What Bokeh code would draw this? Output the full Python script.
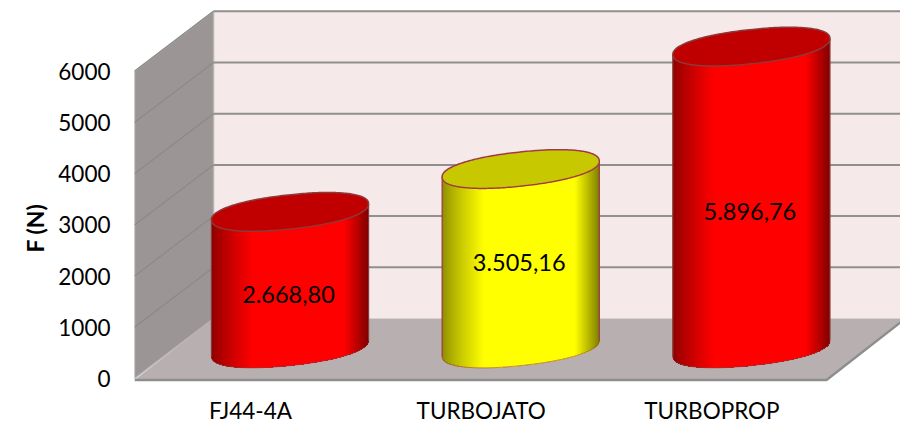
import math
from bokeh.core.properties import value
from bokeh.embed import file_html
from bokeh.models import FixedTicker, Range1d, Title
from bokeh.plotting import figure
from bokeh.resources import INLINE

categories = ["FJ44-4A", "TURBOJATO", "TURBOPROP"]
values = [2668.80, 3505.16, 5896.76]
value_labels = ["2.668,80", "3.505,16", "5.896,76"]
y_ticks = [0, 1000, 2000, 3000, 4000, 5000, 6000]
y_title = "F (N)"
body_colors = [(255, 0, 0), (255, 255, 0), (255, 0, 0)]
cap_colors = ["#C00000", "#C8C800", "#C00000"]
edge_colors = ["#8C3A3A", "#A03A48", "#8C3A3A"]

W, H = 900, 432
FRAME_L, FRAME_T, FRAME_R, FRAME_B = 134, 0, 900, 394
PX_X = 230.7
PX_Y = 0.0512
ZERO_X, ZERO_Y = 250.0, 378.0
BAR_X = 39.5
DEPTH_X, DEPTH_Y = 79.0, 60.0
dx = DEPTH_X / PX_X
dy = DEPTH_Y / PX_Y
px = 1 / PX_X
py = 1 / PX_Y
LEFT_EDGE = 134.0

p = figure(
    width=W, height=H, output_backend="svg", toolbar_location=None,
    x_range=Range1d((FRAME_L - ZERO_X) / PX_X, (FRAME_R - ZERO_X) / PX_X),
    y_range=Range1d((ZERO_Y - FRAME_B) / PX_Y, (ZERO_Y - FRAME_T) / PX_Y),
    min_border_left=FRAME_L, min_border_right=W - FRAME_R,
    min_border_top=FRAME_T, min_border_bottom=H - FRAME_B,
)
p.outline_line_color = None
p.xgrid.visible = False
p.ygrid.visible = False

FONT = "Lato"
ya = p.yaxis[0]
ya.ticker = FixedTicker(ticks=y_ticks)
ya.axis_line_color = None
ya.major_tick_line_color = None
ya.minor_tick_line_color = None
ya.major_tick_out = 0
ya.major_tick_in = 0
ya.minor_tick_out = 0
ya.major_label_text_font = FONT
ya.major_label_text_font_size = "22.5px"
ya.major_label_text_color = "#000000"
ya.major_label_standoff = 24

xa = p.xaxis[0]
xa.ticker = FixedTicker(ticks=list(range(len(categories))))
xa.major_label_overrides = {i: c for i, c in enumerate(categories)}
xa.axis_line_color = None
xa.major_tick_line_color = None
xa.minor_tick_line_color = None
xa.major_tick_out = 0
xa.major_tick_in = 0
xa.minor_tick_out = 0
xa.major_label_text_font = FONT
xa.major_label_text_font_size = "22.5px"
xa.major_label_text_color = "#000000"
xa.major_label_standoff = 2

# a title on the left side can be slid along the axis, unlike an axis label
p.add_layout(Title(text=y_title, align="left", offset=FRAME_B - 252, standoff=13,
                   text_font=FONT, text_font_size="23px", text_font_style="bold",
                   text_color="#000000"), "left")

left = (LEFT_EDGE - ZERO_X) / PX_X
right_front = left + 692 / PX_X
right_back = right_front + dx
top = y_ticks[-1]

# back wall
p.patch([left + dx, right_back, right_back, left + dx], [dy, dy, top + dy, top + dy],
        fill_color="#F5E9E9", line_color=None)
# side wall
p.patch([left, left + dx, left + dx, left], [0, dy, top + dy, top],
        fill_color="#9B9695", line_color="#B5B2B1", line_width=1.5)
# floor
p.patch([left, right_front, right_back, left + dx], [-1.5 * py, -1.5 * py, dy, dy],
        fill_color="#B8B0B0", line_color=None)
p.line([left, right_front, right_back], [-1.5 * py, -1.5 * py, dy],
       line_color="#8E8E8E", line_width=2.5)
# gridlines
for t in y_ticks[1:]:
    p.line([left + dx, right_back], [t + dy, t + dy], line_color="#8F8F8F", line_width=2)
    p.line([left, left + dx], [t, t + dy], line_color="#8A8A88", line_width=1.2)


def curve(theta_a, theta_b, n, a, b, tilt, power=2.2):
    # slightly squared ellipse, tilted: the reference's caps are fuller than a true ellipse
    pts = []
    for k in range(n):
        t = theta_a + (theta_b - theta_a) * k / (n - 1)
        c, s = math.cos(t), math.sin(t)
        ex = a * math.copysign(abs(c) ** (2 / power), c)
        ey = b * math.copysign(abs(s) ** (2 / power), s)
        pts.append((ex * math.cos(tilt) - ey * math.sin(tilt),
                    ex * math.sin(tilt) + ey * math.cos(tilt)))
    return pts


A, B, TILT = 79.0, 17.0, math.radians(6.2)
label_shift = [3, 13, 3]

for i, (v, rgb, cap, lab, edge_col) in enumerate(
        zip(values, body_colors, cap_colors, value_labels, edge_colors)):
    cx = i + BAR_X * px
    cy = dy / 2
    ring = curve(0, 2 * math.pi, 241, A, B, TILT)
    # lower half: from the leftmost point to the rightmost, along the bottom
    il = min(range(len(ring)), key=lambda k: ring[k][0])
    ir = max(range(len(ring)), key=lambda k: ring[k][0])
    pts = ring[il:ir + 1] if ir > il else ring[il:] + ring[1:ir + 1]
    xmin, xmax = pts[0][0], pts[-1][0]
    xs, ys, cols = [], [], []
    # painter's order: each strip runs to the right-hand side, so no seams appear
    for j in range(0, len(pts) - 1):
        x0 = pts[j][0]
        u = (x0 - xmin) / (xmax - xmin)
        edge = min(u, 1 - u)
        if u <= 0.5:
            s = min(1.0, 0.55 + 0.45 * (edge / 0.26) ** 0.8)
        else:
            s = min(1.0, 0.5 + 0.5 * (edge / 0.16))
        cols.append("#%02X%02X%02X" % tuple(int(c * s) for c in rgb))
        tail = pts[j:]
        xs.append([cx + q[0] * px for q in tail] + [cx + q[0] * px for q in reversed(tail)])
        ys.append([cy + q[1] * py for q in tail] + [cy + q[1] * py + v for q in reversed(tail)])
    p.patches(xs, ys, fill_color=cols, line_color=None)
    p.line([cx + xmin * px, cx + xmin * px], [cy + pts[0][1] * py, cy + pts[0][1] * py + v],
           line_color=edge_col, line_width=1.2)
    p.line([cx + xmax * px, cx + xmax * px], [cy + pts[-1][1] * py, cy + pts[-1][1] * py + v],
           line_color=edge_col, line_width=1.2)
    p.line([cx + q[0] * px for q in pts], [cy + q[1] * py for q in pts],
           line_color=edge_col, line_width=1, line_alpha=0.6)
    p.patch([cx + q[0] * px for q in ring], [cy + q[1] * py + v for q in ring],
            fill_color=cap, line_color=edge_col, line_width=1.5)
    p.text([cx - 1.5 * px], [cy - B * py + v / 2 + label_shift[i] * py], text=[lab],
           text_align="center", text_baseline="middle",
           text_font=value(FONT), text_font_size=value("23.5px"), text_color="#000000")

open("out.html", "w").write(file_html(p, INLINE))
